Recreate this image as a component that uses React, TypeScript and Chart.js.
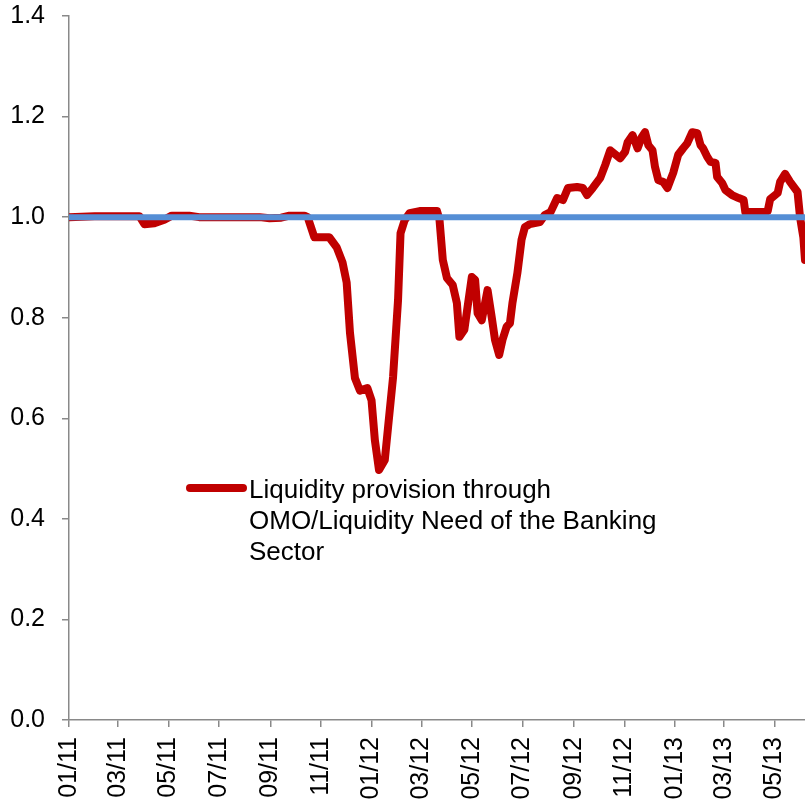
import React, { useEffect, useRef } from "react";
import { Chart, registerables } from "chart.js";

Chart.register(...registerables);

// Observation dates of the liquidity ratio series
const dates: string[] = [
  "2011-01-01", "2011-02-01", "2011-03-27", "2011-04-02", "2011-04-14", "2011-04-26",
  "2011-05-05", "2011-05-26", "2011-06-07", "2011-08-19", "2011-08-31", "2011-09-14",
  "2011-09-24", "2011-10-12", "2011-10-16", "2011-10-21", "2011-10-24", "2011-11-11",
  "2011-11-20", "2011-11-27", "2011-12-02", "2011-12-06", "2011-12-12", "2011-12-18",
  "2011-12-27", "2012-01-01", "2012-01-05", "2012-01-10", "2012-01-17", "2012-01-21",
  "2012-01-27", "2012-02-02", "2012-02-05", "2012-02-10", "2012-02-16", "2012-02-28",
  "2012-03-20", "2012-03-23", "2012-03-27", "2012-04-01", "2012-04-08", "2012-04-13",
  "2012-04-16", "2012-04-22", "2012-05-01", "2012-05-05", "2012-05-08", "2012-05-13",
  "2012-05-20", "2012-05-25", "2012-05-29", "2012-06-03", "2012-06-07", "2012-06-12",
  "2012-06-16", "2012-06-19", "2012-06-25", "2012-06-30", "2012-07-04", "2012-07-10",
  "2012-07-22", "2012-07-28", "2012-08-04", "2012-08-12", "2012-08-19", "2012-08-25",
  "2012-09-05", "2012-09-12", "2012-09-17", "2012-09-24", "2012-10-03", "2012-10-09",
  "2012-10-15", "2012-10-27", "2012-11-02", "2012-11-05", "2012-11-11", "2012-11-17",
  "2012-11-22", "2012-11-26", "2012-11-30", "2012-12-05", "2012-12-08", "2012-12-12",
  "2012-12-18", "2012-12-23", "2012-12-30", "2013-01-05", "2013-01-11", "2013-01-16",
  "2013-01-22", "2013-01-28", "2013-02-01", "2013-02-04", "2013-02-09", "2013-02-13",
  "2013-02-19", "2013-02-21", "2013-02-27", "2013-03-03", "2013-03-11", "2013-03-19",
  "2013-03-25", "2013-03-27", "2013-04-18", "2013-04-23", "2013-04-26", "2013-05-05",
  "2013-05-08", "2013-05-14", "2013-05-20", "2013-05-29", "2013-06-01", "2013-06-05",
  "2013-06-07",
];

// Liquidity provision through OMO / liquidity need of the banking sector
const ratio: number[] = [
  1.000, 1.002, 1.002, 0.986, 0.988, 0.995,
  1.003, 1.003, 1.000, 1.000, 0.998, 0.999,
  1.003, 1.003, 1.000, 0.975, 0.960, 0.960,
  0.940, 0.910, 0.870, 0.770, 0.680, 0.655,
  0.660, 0.636, 0.557, 0.497, 0.517, 0.583,
  0.682, 0.835, 0.968, 0.994, 1.008, 1.012,
  1.012, 0.995, 0.915, 0.879, 0.865, 0.829,
  0.762, 0.776, 0.881, 0.875, 0.809, 0.795,
  0.855, 0.801, 0.756, 0.726, 0.756, 0.782,
  0.789, 0.829, 0.889, 0.955, 0.980, 0.986,
  0.990, 1.004, 1.010, 1.038, 1.034, 1.058,
  1.060, 1.058, 1.044, 1.058, 1.078, 1.104,
  1.133, 1.117, 1.130, 1.149, 1.163, 1.137,
  1.159, 1.169, 1.143, 1.133, 1.100, 1.074,
  1.070, 1.058, 1.088, 1.124, 1.137, 1.147,
  1.169, 1.167, 1.143, 1.137, 1.120, 1.110,
  1.108, 1.080, 1.068, 1.054, 1.044, 1.038,
  1.034, 1.010, 1.010, 1.012, 1.036, 1.048,
  1.070, 1.086, 1.070, 1.050, 1.000, 0.960,
  0.915,
];

// Reference level (parity)
const parityDates: string[] = ["2011-01-01", "2013-06-07"];
const parityValues: number[] = [1.0, 1.0];

const xTickLabels: string[] = [
  "01/11", "03/11", "05/11", "07/11", "09/11", "11/11", "01/12", "03/12",
  "05/12", "07/12", "09/12", "11/12", "01/13", "03/13", "05/13",
];

const legendLines: string[] = [
  "Liquidity provision through",
  "OMO/Liquidity Need of the Banking",
  "Sector",
];

const RED = "#C00000";
const BLUE = "#558ED5";
const AXIS = "#898989";
const FONT = '"Liberation Sans", Arial, sans-serif';

const ORIGIN = Date.UTC(2011, 0, 1);
const dayOf = (iso: string) => {
  const [y, m, d] = iso.split("-").map(Number);
  return (Date.UTC(y, m - 1, d) - ORIGIN) / 86400000;
};
const tickDay = (lbl: string) => {
  const [mm, yy] = lbl.split("/").map(Number);
  return (Date.UTC(2000 + yy, mm - 1, 1) - ORIGIN) / 86400000;
};

const innerLegend = {
  id: "innerLegend",
  afterDraw(chart: any) {
    const { ctx, chartArea } = chart;
    const x0 = chartArea.left + 121;
    const y0 = chartArea.top + 472;
    ctx.save();
    ctx.strokeStyle = RED;
    ctx.lineWidth = 8;
    ctx.lineCap = "round";
    ctx.beginPath();
    ctx.moveTo(x0, y0);
    ctx.lineTo(x0 + 53, y0);
    ctx.stroke();
    ctx.fillStyle = "#000";
    ctx.font = `26px ${FONT}`;
    ctx.textBaseline = "alphabetic";
    ctx.textAlign = "left";
    legendLines.forEach((t, i) => ctx.fillText(t, x0 + 59, y0 + 10 + i * 31));
    ctx.restore();
  },
};

export default function App() {
  const ref = useRef<HTMLCanvasElement | null>(null);

  useEffect(() => {
    if (!ref.current) return;
    const tickValues = xTickLabels.map(tickDay);
    const chart = new Chart(ref.current, {
      type: "line",
      data: {
        datasets: [
          {
            label: "Parity",
            data: parityDates.map((d, i) => ({ x: dayOf(d), y: parityValues[i] })),
            borderColor: BLUE,
            borderWidth: 6,
            pointRadius: 0,
            order: 0,
          },
          {
            label: legendLines.join(" "),
            data: dates.map((d, i) => ({ x: dayOf(d), y: ratio[i] })),
            borderColor: RED,
            borderWidth: 8,
            borderJoinStyle: "round",
            borderCapStyle: "round",
            pointRadius: 0,
            tension: 0,
            order: 1,
          },
        ],
      },
      options: {
        responsive: false,
        animation: false,
        devicePixelRatio: 1,
        layout: { padding: { left: 0, top: 16, right: 0, bottom: 0 } },
        plugins: {
          legend: { display: false },
          tooltip: { enabled: false },
        },
        scales: {
          x: {
            type: "linear",
            min: 0,
            max: dayOf(dates[dates.length - 1]),
            afterBuildTicks: (scale: any) => {
              scale.ticks = tickValues.map((v) => ({ value: v }));
            },
            afterFit: (scale: any) => {
              scale.height = 84;
              scale.paddingLeft = 0;
              scale.paddingRight = 0;
            },
            ticks: {
              autoSkip: false,
              maxRotation: 90,
              minRotation: 90,
              padding: 10,
              color: "#000",
              font: { family: FONT, size: 25 },
              callback: (v: any) => {
                const idx = tickValues.indexOf(Number(v));
                return idx >= 0 ? xTickLabels[idx] : "";
              },
            },
            grid: { drawOnChartArea: false, drawTicks: true, tickLength: 7, color: AXIS, lineWidth: 1.5 },
            border: { display: true, color: AXIS, width: 1.5 },
          },
          y: {
            min: 0,
            max: 1.4,
            afterFit: (scale: any) => {
              scale.width = 69;
              scale.paddingTop = 0;
              scale.paddingBottom = 0;
            },
            ticks: {
              stepSize: 0.2,
              padding: 17,
              color: "#000",
              font: { family: FONT, size: 25 },
              callback: (v: any) => Number(v).toFixed(1),
            },
            grid: { drawOnChartArea: false, drawTicks: true, tickLength: 7, color: AXIS, lineWidth: 1.5 },
            border: { display: true, color: AXIS, width: 1.5 },
          },
        },
      },
      plugins: [innerLegend],
    });
    return () => chart.destroy();
  }, []);

  return (
    <canvas
      ref={ref}
      width={805}
      height={804}
      style={{ position: "absolute", left: 0, top: 0, width: 805, height: 804 }}
    />
  );
}
